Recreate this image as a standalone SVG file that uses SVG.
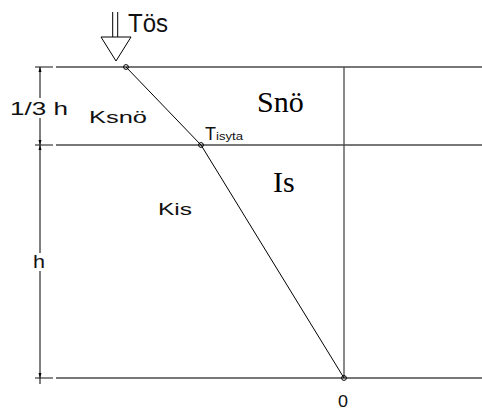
<svg xmlns="http://www.w3.org/2000/svg" width="482" height="412" viewBox="0 0 482 412">
<style>
.ln{stroke:#4a4a4a;stroke-width:1.3;fill:none}
.dk{stroke:#000;stroke-width:1;fill:none}
.t{font-family:"Liberation Sans",Arial,sans-serif;fill:#111}
.s{font-family:"Liberation Serif","Times New Roman",serif;fill:#000}
</style>
<rect width="482" height="412" fill="#fff"/>
<g id="grid">
<line class="ln" x1="35" y1="67" x2="53" y2="67"/>
<line class="ln" x1="56" y1="67" x2="482" y2="67"/>
<line class="ln" x1="35" y1="145" x2="53" y2="145"/>
<line class="ln" x1="56" y1="145" x2="482" y2="145"/>
<line class="ln" x1="35" y1="378" x2="53" y2="378"/>
<line class="ln" x1="56" y1="378" x2="482" y2="378"/>
<line class="ln" x1="344" y1="67" x2="344" y2="378"/>
</g>
<g id="dimension">
<line class="dk" x1="40" y1="67" x2="40" y2="98"/>
<line class="dk" x1="40" y1="118" x2="40" y2="253"/>
<line class="dk" x1="40" y1="271" x2="40" y2="384"/>
<path d="M40 67 L38.5 72 L41.5 72 Z M40 145 L38.5 140 L41.5 140 Z M40 145 L38.5 150 L41.5 150 Z M40 378 L38.5 373 L41.5 373 Z" fill="#000"/>
<text class="t" x="10" y="115" font-size="18" textLength="58" lengthAdjust="spacingAndGlyphs">1/3 h</text>
<text class="t" x="33" y="268" font-size="18" textLength="12" lengthAdjust="spacingAndGlyphs">h</text>
</g>
<g id="load">
<line class="dk" x1="112.7" y1="12" x2="112.7" y2="37"/>
<line class="dk" x1="117.7" y1="12" x2="117.7" y2="37"/>
<path class="dk" d="M101 37 L131 37 L116 61 Z"/>
<text class="t" x="128" y="32" font-size="26" textLength="40" lengthAdjust="spacingAndGlyphs">Tös</text>
</g>
<g id="connectors">
<polyline class="dk" points="126,67 201,145 344,378"/>
</g>
<g id="points">
<circle class="dk" cx="126" cy="67" r="2.4" fill="#fff"/>
<circle class="dk" cx="201" cy="145" r="2.4" fill="#fff"/>
<circle class="dk" cx="344" cy="378" r="2.4" fill="#fff"/>
</g>
<g id="labels">
<text class="t" x="89" y="123" font-size="16" textLength="58" lengthAdjust="spacingAndGlyphs">Ksnö</text>
<text class="t" x="158" y="215" font-size="16" textLength="34" lengthAdjust="spacingAndGlyphs">Kis</text>
<text class="t" x="205" y="140" font-size="18">T</text>
<text class="t" x="216" y="140" font-size="10" textLength="27" lengthAdjust="spacingAndGlyphs">isyta</text>
<text class="s" x="257" y="112" font-size="30">Snö</text>
<text class="s" x="273" y="192" font-size="30">Is</text>
<text class="t" x="338" y="407" font-size="17" textLength="10" lengthAdjust="spacingAndGlyphs">0</text>
</g>
</svg>
